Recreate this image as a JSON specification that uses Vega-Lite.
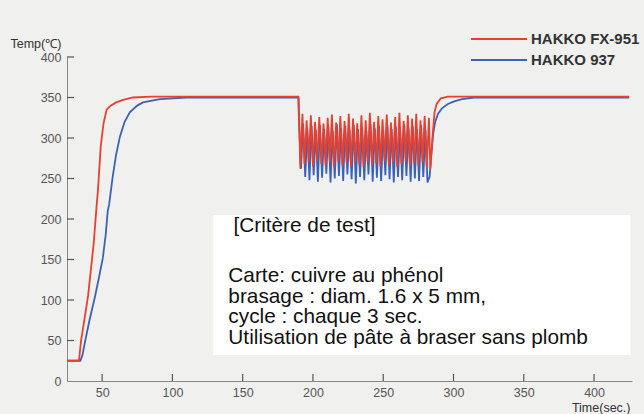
{
  "$schema": "https://vega.github.io/schema/vega-lite/v6.json",
  "width": 565,
  "height": 324,
  "autosize": {"type": "none"},
  "padding": {"left": 67, "top": 57, "right": 12, "bottom": 33},
  "background": "#f0f0ee",
  "config": {
    "view": {"stroke": null},
    "font": "Liberation Sans",
    "axis": {"grid": false, "domainColor": "#888", "labelColor": "#555", "labelFontSize": 12.5, "titleFontWeight": "normal", "titleColor": "#333", "titleFontSize": 12.5}
  },
  "resolve": {"axis": {"x": "independent", "y": "independent"}},
  "datasets": {
    "temp": [
      {"t": 25, "v": 25, "s": "HAKKO 937"}, {"t": 34.5, "v": 25, "s": "HAKKO 937"}, {"t": 36, "v": 32, "s": "HAKKO 937"}, {"t": 38, "v": 50, "s": "HAKKO 937"}, {"t": 41, "v": 75, "s": "HAKKO 937"}, {"t": 45, "v": 105, "s": "HAKKO 937"}, {"t": 48, "v": 130, "s": "HAKKO 937"}, {"t": 50.5, "v": 152, "s": "HAKKO 937"}, {"t": 52.5, "v": 180, "s": "HAKKO 937"}, {"t": 54, "v": 210, "s": "HAKKO 937"}, {"t": 55, "v": 218, "s": "HAKKO 937"}, {"t": 56, "v": 232, "s": "HAKKO 937"}, {"t": 57.5, "v": 252, "s": "HAKKO 937"}, {"t": 60, "v": 280, "s": "HAKKO 937"}, {"t": 62.7, "v": 302, "s": "HAKKO 937"}, {"t": 66, "v": 320, "s": "HAKKO 937"}, {"t": 69.8, "v": 332, "s": "HAKKO 937"}, {"t": 75, "v": 340, "s": "HAKKO 937"}, {"t": 79, "v": 344, "s": "HAKKO 937"}, {"t": 91, "v": 348, "s": "HAKKO 937"}, {"t": 110, "v": 350, "s": "HAKKO 937"}, {"t": 189.8, "v": 350, "s": "HAKKO 937"},
      {"t": 190.5, "v": 300, "s": "HAKKO 937"}, {"t": 191.5, "v": 262, "s": "HAKKO 937"}, {"t": 193, "v": 318, "s": "HAKKO 937"}, {"t": 194.5, "v": 252, "s": "HAKKO 937"}, {"t": 196, "v": 312, "s": "HAKKO 937"}, {"t": 197.5, "v": 248, "s": "HAKKO 937"}, {"t": 199, "v": 315, "s": "HAKKO 937"}, {"t": 200.5, "v": 254, "s": "HAKKO 937"}, {"t": 202, "v": 310, "s": "HAKKO 937"}, {"t": 203.5, "v": 246, "s": "HAKKO 937"}, {"t": 205, "v": 316, "s": "HAKKO 937"}, {"t": 206.5, "v": 251, "s": "HAKKO 937"}, {"t": 208, "v": 311, "s": "HAKKO 937"}, {"t": 209.5, "v": 256, "s": "HAKKO 937"}, {"t": 211, "v": 314, "s": "HAKKO 937"}, {"t": 212.5, "v": 245, "s": "HAKKO 937"}, {"t": 214, "v": 309, "s": "HAKKO 937"}, {"t": 215.5, "v": 250, "s": "HAKKO 937"}, {"t": 217, "v": 317, "s": "HAKKO 937"}, {"t": 218.5, "v": 253, "s": "HAKKO 937"}, {"t": 220, "v": 312, "s": "HAKKO 937"}, {"t": 221.5, "v": 247, "s": "HAKKO 937"}, {"t": 223, "v": 315, "s": "HAKKO 937"}, {"t": 224.5, "v": 255, "s": "HAKKO 937"}, {"t": 226, "v": 310, "s": "HAKKO 937"}, {"t": 227.5, "v": 249, "s": "HAKKO 937"}, {"t": 229, "v": 316, "s": "HAKKO 937"}, {"t": 230.5, "v": 244, "s": "HAKKO 937"}, {"t": 232, "v": 311, "s": "HAKKO 937"}, {"t": 233.5, "v": 252, "s": "HAKKO 937"}, {"t": 235, "v": 314, "s": "HAKKO 937"}, {"t": 236.5, "v": 248, "s": "HAKKO 937"}, {"t": 238, "v": 309, "s": "HAKKO 937"}, {"t": 239.5, "v": 255, "s": "HAKKO 937"}, {"t": 241, "v": 317, "s": "HAKKO 937"}, {"t": 242.5, "v": 246, "s": "HAKKO 937"}, {"t": 244, "v": 312, "s": "HAKKO 937"}, {"t": 245.5, "v": 251, "s": "HAKKO 937"}, {"t": 247, "v": 315, "s": "HAKKO 937"}, {"t": 248.5, "v": 247, "s": "HAKKO 937"}, {"t": 250, "v": 310, "s": "HAKKO 937"}, {"t": 251.5, "v": 254, "s": "HAKKO 937"}, {"t": 253, "v": 316, "s": "HAKKO 937"}, {"t": 254.5, "v": 249, "s": "HAKKO 937"}, {"t": 256, "v": 311, "s": "HAKKO 937"}, {"t": 257.5, "v": 245, "s": "HAKKO 937"}, {"t": 259, "v": 314, "s": "HAKKO 937"}, {"t": 260.5, "v": 252, "s": "HAKKO 937"}, {"t": 262, "v": 310, "s": "HAKKO 937"}, {"t": 263.5, "v": 248, "s": "HAKKO 937"}, {"t": 265, "v": 317, "s": "HAKKO 937"}, {"t": 266.5, "v": 253, "s": "HAKKO 937"}, {"t": 268, "v": 312, "s": "HAKKO 937"}, {"t": 269.5, "v": 246, "s": "HAKKO 937"}, {"t": 271, "v": 315, "s": "HAKKO 937"}, {"t": 272.5, "v": 250, "s": "HAKKO 937"}, {"t": 274, "v": 311, "s": "HAKKO 937"}, {"t": 275.5, "v": 247, "s": "HAKKO 937"}, {"t": 277, "v": 316, "s": "HAKKO 937"}, {"t": 278.5, "v": 252, "s": "HAKKO 937"}, {"t": 280, "v": 310, "s": "HAKKO 937"}, {"t": 281.5, "v": 245, "s": "HAKKO 937"}, {"t": 283, "v": 252, "s": "HAKKO 937"}, {"t": 284, "v": 275, "s": "HAKKO 937"}, {"t": 285.5, "v": 305, "s": "HAKKO 937"}, {"t": 287, "v": 320, "s": "HAKKO 937"}, {"t": 289, "v": 330, "s": "HAKKO 937"}, {"t": 292, "v": 337, "s": "HAKKO 937"}, {"t": 296, "v": 342, "s": "HAKKO 937"}, {"t": 300, "v": 345, "s": "HAKKO 937"}, {"t": 306, "v": 348, "s": "HAKKO 937"}, {"t": 315, "v": 350, "s": "HAKKO 937"}, {"t": 425, "v": 350, "s": "HAKKO 937"},
      {"t": 25, "v": 25, "s": "HAKKO FX-951"}, {"t": 33.5, "v": 25, "s": "HAKKO FX-951"}, {"t": 35, "v": 50, "s": "HAKKO FX-951"}, {"t": 40, "v": 105, "s": "HAKKO FX-951"}, {"t": 44, "v": 170, "s": "HAKKO FX-951"}, {"t": 46, "v": 215, "s": "HAKKO FX-951"}, {"t": 47, "v": 235, "s": "HAKKO FX-951"}, {"t": 49, "v": 290, "s": "HAKKO FX-951"}, {"t": 51, "v": 318, "s": "HAKKO FX-951"}, {"t": 53.2, "v": 335, "s": "HAKKO FX-951"}, {"t": 56, "v": 340, "s": "HAKKO FX-951"}, {"t": 60, "v": 344, "s": "HAKKO FX-951"}, {"t": 65, "v": 347, "s": "HAKKO FX-951"}, {"t": 72, "v": 350, "s": "HAKKO FX-951"}, {"t": 85, "v": 351, "s": "HAKKO FX-951"}, {"t": 189.5, "v": 351, "s": "HAKKO FX-951"},
      {"t": 190.5, "v": 300, "s": "HAKKO FX-951"}, {"t": 191, "v": 262, "s": "HAKKO FX-951"}, {"t": 192.5, "v": 330, "s": "HAKKO FX-951"}, {"t": 194, "v": 268, "s": "HAKKO FX-951"}, {"t": 195.5, "v": 322, "s": "HAKKO FX-951"}, {"t": 197, "v": 270, "s": "HAKKO FX-951"}, {"t": 198.5, "v": 328, "s": "HAKKO FX-951"}, {"t": 200, "v": 265, "s": "HAKKO FX-951"}, {"t": 201.5, "v": 320, "s": "HAKKO FX-951"}, {"t": 203, "v": 272, "s": "HAKKO FX-951"}, {"t": 204.5, "v": 326, "s": "HAKKO FX-951"}, {"t": 206, "v": 268, "s": "HAKKO FX-951"}, {"t": 207.5, "v": 318, "s": "HAKKO FX-951"}, {"t": 209, "v": 266, "s": "HAKKO FX-951"}, {"t": 210.5, "v": 325, "s": "HAKKO FX-951"}, {"t": 212, "v": 270, "s": "HAKKO FX-951"}, {"t": 213.5, "v": 329, "s": "HAKKO FX-951"}, {"t": 215, "v": 264, "s": "HAKKO FX-951"}, {"t": 216.5, "v": 319, "s": "HAKKO FX-951"}, {"t": 218, "v": 271, "s": "HAKKO FX-951"}, {"t": 219.5, "v": 327, "s": "HAKKO FX-951"}, {"t": 221, "v": 266, "s": "HAKKO FX-951"}, {"t": 222.5, "v": 321, "s": "HAKKO FX-951"}, {"t": 224, "v": 269, "s": "HAKKO FX-951"}, {"t": 225.5, "v": 330, "s": "HAKKO FX-951"}, {"t": 227, "v": 265, "s": "HAKKO FX-951"}, {"t": 228.5, "v": 324, "s": "HAKKO FX-951"}, {"t": 230, "v": 271, "s": "HAKKO FX-951"}, {"t": 231.5, "v": 318, "s": "HAKKO FX-951"}, {"t": 233, "v": 267, "s": "HAKKO FX-951"}, {"t": 234.5, "v": 328, "s": "HAKKO FX-951"}, {"t": 236, "v": 264, "s": "HAKKO FX-951"}, {"t": 237.5, "v": 322, "s": "HAKKO FX-951"}, {"t": 239, "v": 270, "s": "HAKKO FX-951"}, {"t": 240.5, "v": 331, "s": "HAKKO FX-951"}, {"t": 242, "v": 266, "s": "HAKKO FX-951"}, {"t": 243.5, "v": 320, "s": "HAKKO FX-951"}, {"t": 245, "v": 269, "s": "HAKKO FX-951"}, {"t": 246.5, "v": 327, "s": "HAKKO FX-951"}, {"t": 248, "v": 265, "s": "HAKKO FX-951"}, {"t": 249.5, "v": 323, "s": "HAKKO FX-951"}, {"t": 251, "v": 272, "s": "HAKKO FX-951"}, {"t": 252.5, "v": 329, "s": "HAKKO FX-951"}, {"t": 254, "v": 266, "s": "HAKKO FX-951"}, {"t": 255.5, "v": 319, "s": "HAKKO FX-951"}, {"t": 257, "v": 270, "s": "HAKKO FX-951"}, {"t": 258.5, "v": 326, "s": "HAKKO FX-951"}, {"t": 260, "v": 264, "s": "HAKKO FX-951"}, {"t": 261.5, "v": 331, "s": "HAKKO FX-951"}, {"t": 263, "v": 268, "s": "HAKKO FX-951"}, {"t": 264.5, "v": 321, "s": "HAKKO FX-951"}, {"t": 266, "v": 271, "s": "HAKKO FX-951"}, {"t": 267.5, "v": 328, "s": "HAKKO FX-951"}, {"t": 269, "v": 265, "s": "HAKKO FX-951"}, {"t": 270.5, "v": 324, "s": "HAKKO FX-951"}, {"t": 272, "v": 269, "s": "HAKKO FX-951"}, {"t": 273.5, "v": 330, "s": "HAKKO FX-951"}, {"t": 275, "v": 266, "s": "HAKKO FX-951"}, {"t": 276.5, "v": 322, "s": "HAKKO FX-951"}, {"t": 278, "v": 270, "s": "HAKKO FX-951"}, {"t": 279.5, "v": 327, "s": "HAKKO FX-951"}, {"t": 281, "v": 263, "s": "HAKKO FX-951"}, {"t": 282.5, "v": 325, "s": "HAKKO FX-951"}, {"t": 283.5, "v": 262, "s": "HAKKO FX-951"}, {"t": 285, "v": 300, "s": "HAKKO FX-951"}, {"t": 286.5, "v": 332, "s": "HAKKO FX-951"}, {"t": 288, "v": 342, "s": "HAKKO FX-951"}, {"t": 291, "v": 349, "s": "HAKKO FX-951"}, {"t": 296, "v": 351, "s": "HAKKO FX-951"}, {"t": 425, "v": 351, "s": "HAKKO FX-951"}
    ],
    "box": [{"x1": 129, "x2": 426, "y1": 32, "y2": 205}],
    "ticksx": [{"t": 50}, {"t": 100}, {"t": 150}, {"t": 200}, {"t": 250}, {"t": 300}, {"t": 350}, {"t": 400}],
    "ticksy": [{"v": 50}, {"v": 100}, {"v": 150}, {"v": 200}, {"v": 250}, {"v": 300}, {"v": 350}, {"v": 400}],
    "notes": [
      {"t": 143.4, "v": 190.8, "label": "[Critère de test]"},
      {"t": 139.8, "v": 130.2, "label": "Carte: cuivre au phénol"},
      {"t": 139.8, "v": 104.3, "label": "brasage : diam. 1.6 x 5 mm,"},
      {"t": 139.8, "v": 78.4, "label": "cycle : chaque 3 sec."},
      {"t": 139.8, "v": 52.5, "label": "Utilisation de pâte à braser sans plomb"}
    ]
  },
  "layer": [
    {
      "data": {"name": "box"},
      "mark": {"type": "rect", "fill": "white", "stroke": null},
      "encoding": {
        "x": {"field": "x1", "type": "quantitative", "scale": {"domain": [25, 427], "nice": false, "zero": false}, "axis": null},
        "x2": {"field": "x2"},
        "y": {"field": "y1", "type": "quantitative", "scale": {"domain": [0, 400], "nice": false}, "axis": null},
        "y2": {"field": "y2"}
      }
    },
    {
      "data": {"name": "ticksx"},
      "mark": {"type": "rule", "color": "#555", "strokeWidth": 1.2, "y2Offset": -7},
      "encoding": {
        "x": {"field": "t", "type": "quantitative", "scale": {"domain": [25, 427], "nice": false, "zero": false}, "axis": null},
        "y": {"datum": 0, "type": "quantitative", "scale": {"domain": [0, 400], "nice": false}, "axis": null},
        "y2": {"datum": 0}
      }
    },
    {
      "data": {"name": "ticksy"},
      "mark": {"type": "rule", "color": "#555", "strokeWidth": 1.2, "x2Offset": 7},
      "encoding": {
        "y": {"field": "v", "type": "quantitative", "scale": {"domain": [0, 400], "nice": false}, "axis": null},
        "x": {"datum": 25, "type": "quantitative", "scale": {"domain": [25, 427], "nice": false, "zero": false}, "axis": null},
        "x2": {"datum": 25}
      }
    },
    {
      "data": {"name": "notes"},
      "mark": {"type": "text", "align": "left", "baseline": "middle", "fontSize": 20.8, "fill": "#111", "font": "Liberation Sans"},
      "encoding": {
        "x": {"field": "t", "type": "quantitative", "scale": {"domain": [25, 427], "nice": false, "zero": false},
          "axis": {"values": [50, 100, 150, 200, 250, 300, 350, 400], "ticks": false, "labelPadding": 5, "title": "Time(sec.)", "titleAnchor": "end", "titleAlign": "right", "titleX": 563, "titleY": 30, "titleBaseline": "alphabetic"}},
        "y": {"field": "v", "type": "quantitative", "scale": {"domain": [0, 400], "nice": false},
          "axis": {"values": [0, 50, 100, 150, 200, 250, 300, 350, 400], "ticks": false, "labelPadding": 6, "title": "Temp(℃)", "titleAngle": 0, "titleAlign": "left", "titleX": -57, "titleY": -10, "titleBaseline": "alphabetic"}},
        "text": {"field": "label", "type": "nominal"}
      }
    },
    {
      "data": {"name": "temp"},
      "transform": [{"filter": "datum.s === 'HAKKO 937'"}],
      "mark": {"type": "line", "strokeWidth": 1.8, "interpolate": "linear"},
      "encoding": {
        "x": {"field": "t", "type": "quantitative", "scale": {"domain": [25, 427], "nice": false, "zero": false}, "axis": null},
        "y": {"field": "v", "type": "quantitative", "scale": {"domain": [0, 400], "nice": false}, "axis": null},
        "color": {
          "field": "s", "type": "nominal",
          "scale": {"domain": ["HAKKO FX-951", "HAKKO 937"], "range": ["#e8402e", "#3a62b8"]},
          "legend": {"title": null, "orient": "none", "legendX": 421, "legendY": -29, "padding": 0, "symbolType": "M-2.8,0H2.8", "symbolSize": 400, "symbolStrokeWidth": 2, "rowPadding": 2, "labelFontSize": 15, "labelFontWeight": "bold", "labelColor": "#333", "labelOffset": 21}
        }
      }
    },
    {
      "data": {"name": "temp"},
      "transform": [{"filter": "datum.s === 'HAKKO FX-951'"}],
      "mark": {"type": "line", "strokeWidth": 1.8, "interpolate": "linear"},
      "encoding": {
        "x": {"field": "t", "type": "quantitative", "scale": {"domain": [25, 427], "nice": false, "zero": false}, "axis": null},
        "y": {"field": "v", "type": "quantitative", "scale": {"domain": [0, 400], "nice": false}, "axis": null},
        "color": {
          "field": "s", "type": "nominal",
          "scale": {"domain": ["HAKKO FX-951", "HAKKO 937"], "range": ["#e8402e", "#3a62b8"]},
          "legend": {"title": null, "orient": "none", "legendX": 421, "legendY": -29, "padding": 0, "symbolType": "M-2.8,0H2.8", "symbolSize": 400, "symbolStrokeWidth": 2, "rowPadding": 2, "labelFontSize": 15, "labelFontWeight": "bold", "labelColor": "#333", "labelOffset": 21}
        }
      }
    }
  ]
}
